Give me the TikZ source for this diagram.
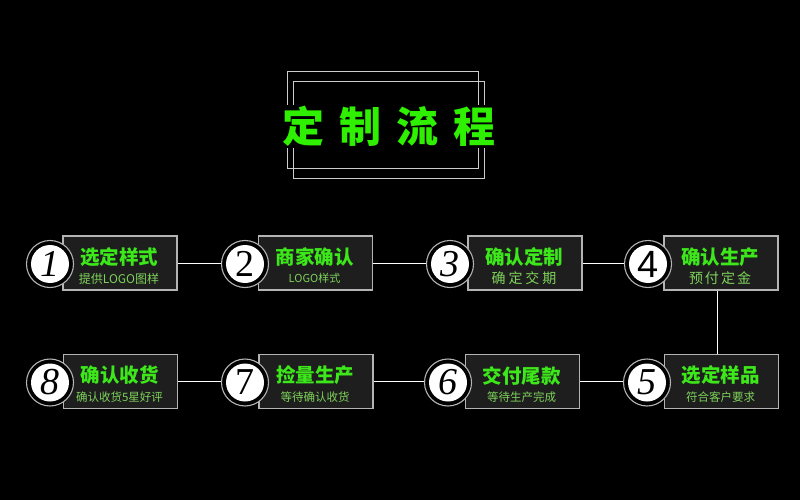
\documentclass[tikz,border=0pt]{standalone}
\usepackage{fontspec}
\setmainfont{Liberation Serif}
\newfontfamily\cjk{Noto Sans CJK SC}
\newfontfamily\cjkblack{Noto Sans CJK SC Black}
\newfontfamily\numsans{Liberation Sans}
\definecolor{titlegreen}{HTML}{2EF000}
\definecolor{stepgreen}{HTML}{3CE81A}
\definecolor{subgreen}{HTML}{7ED25A}
\definecolor{boxfill}{HTML}{1E1E1E}
\definecolor{boxline}{HTML}{B4B4B4}
\definecolor{frameline}{HTML}{CCCCCC}
\tikzset{
  stepbox/.style={draw=boxline, fill=boxfill, line width=1.1pt, minimum width=114pt, minimum height=54pt, inner sep=0pt},
  ringout/.style={circle, draw=boxline, fill=black, line width=1.1pt, minimum size=47pt, inner sep=0pt},
  ringin/.style={circle, fill=white, minimum size=38pt, inner sep=0pt, text=black},
  steptitle/.style={text=stepgreen, font=\cjkblack\fontsize{19.5}{20}\selectfont, inner sep=0pt},
  stepsub/.style={text=subgreen, font=\cjk\fontsize{11.5}{12}\selectfont, inner sep=0pt},
  conn/.style={draw=white, line width=0.8pt},
  framebox/.style={draw=frameline, line width=1pt, minimum width=191pt, minimum height=96pt, inner sep=0pt},
}
\newcommand\mkstep[8]{%
  \node[stepbox] (b#1) at (#2,#3) {};
  \node[steptitle] (t#1) at ({#2-1},{#3-6}) {#6};
  \node[stepsub] (s#1) at ({#2-1},{#3+15.5}) {#7};
  \node[ringout] (c#1) at (#4,{#3+1}) {};
  \node[ringin, font=#8\fontsize{38}{38}\selectfont] (n#1) at (c#1.center) {#5};
}
\begin{document}
\begin{tikzpicture}[x=1pt,y=-1pt]
\fill[black] (0,0) rectangle (800,500);
\useasboundingbox (0,0) rectangle (800,500);
% title frame
\node[framebox] (f1) at (382.5,120) {};
\node[framebox] (f2) at (388.5,130) {};
\node[fill=black, text=titlegreen, inner sep=1pt, font=\cjkblack\fontsize{42}{44}\selectfont] (title) at (389,126.5) {定\hspace{15pt}制\hspace{15pt}流\hspace{15pt}程};
% steps
\mkstep{1}{120}{263}{50}{1}{选定样式}{\fontsize{12}{12}\selectfont 提供LOGO图样}{\itshape}
\mkstep{2}{315.5}{263}{245}{2}{商家确认}{\fontsize{11}{12}\selectfont LOGO样式}{\rmfamily}
\mkstep{3}{525}{263}{450}{3}{确认定制}{\fontsize{14}{14}\selectfont 确\hspace{3pt}定\hspace{3pt}交\hspace{3pt}期}{\itshape}
\mkstep{4}{721}{263}{648}{4}{确认生产}{\fontsize{14}{14}\selectfont 预\hspace{2pt}付\hspace{2pt}定\hspace{2pt}金}{\numsans}
\mkstep{5}{721.5}{381.5}{647}{5}{选定样品}{符合客户要求}{\itshape}
\mkstep{6}{522.5}{381.5}{448}{6}{交付尾款}{等待生产完成}{\itshape}
\mkstep{7}{316}{381.5}{245}{7}{捡量生产}{等待确认收货}{\rmfamily}
\mkstep{8}{120.5}{381.5}{50}{8}{确认收货}{确认收货5星好评}{\itshape}
% connectors
\draw[conn] (b1.east) -- (b1.east -| c2.west);
\draw[conn] (b2.east) -- (b2.east -| c3.west);
\draw[conn] (b3.east) -- (b3.east -| c4.west);
\draw[conn] ([xshift=-4pt]b4.south) -- ([xshift=-4pt]b4.south |- b5.north);
\draw[conn] (b6.east) -- (b6.east -| c5.west);
\draw[conn] (b7.east) -- (b7.east -| c6.west);
\draw[conn] (b8.east) -- (b8.east -| c7.west);
\end{tikzpicture}
\end{document}
